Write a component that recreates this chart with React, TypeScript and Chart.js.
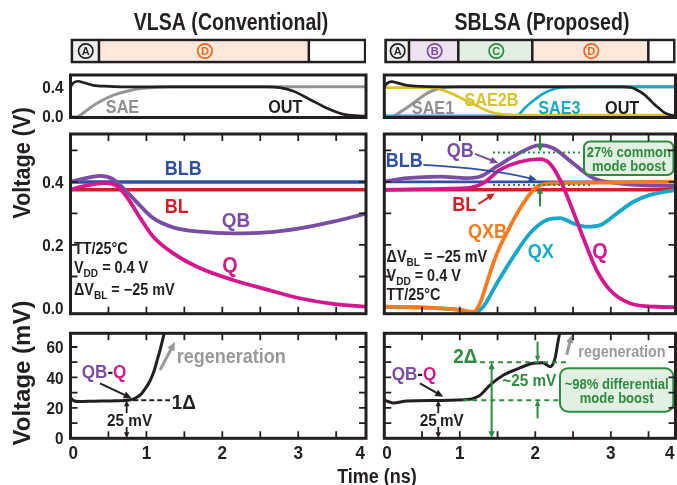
import React, { useEffect, useRef } from "react";
import { Chart, registerables } from "chart.js";

Chart.register(...registerables);

const W = 677;
const H = 485;
const FONT = '"Liberation Sans", Arial, sans-serif';
const SX = 0.9;

const INK = "#231F20";
const C_BLB = "#2F4FA3";
const C_BL = "#CE2029";
const C_QB = "#7A4DA5";
const C_Q = "#D5178D";
const C_QXB = "#F47B20";
const C_QX = "#17A7C9";
const C_SAE = "#969696";
const C_SAETXT = "#8F8F8F";
const C_SAE2B = "#D9C22C";
const C_GREEN = "#2E8B3F";
const C_GREENFILL = "#E2F0E1";
const C_REGEN = "#999999";

// ---------------- DATA ----------------
const timeLabelValues = [0, 1, 2, 3, 4];
const timeLabels = ["0", "1", "2", "3", "4"];
const timeTickValues = [0.5, 1, 1.5, 2, 2.5, 3, 3.5];
const topYLabelValues = [0, 0.4];
const topYLabels = ["0.0", "0.4"];
const mainYTickValues = [0.1, 0.2, 0.3, 0.4, 0.5];
const mainYLabelValues = [0, 0.2, 0.4];
const mainYLabels = ["0.0", "0.2", "0.4"];
const diffYTickValues = [10, 20, 30, 40, 50, 60];
const diffYLabelValues = [0, 20, 40, 60];
const diffYLabels = ["0", "20", "40", "60"];

// phases
const vlsaPhaseNames = ["A", "D", ""];
const vlsaPhaseStart = [0, 0.375, 3.14];
const vlsaPhaseEnd = [0.375, 3.14, 3.9];
const sblsaPhaseNames = ["A", "B", "C", "D", ""];
const sblsaPhaseStart = [0, 0.327, 0.98, 1.96, 3.497];
const sblsaPhaseEnd = [0.327, 0.98, 1.96, 3.497, 3.86];

// VLSA (conventional)
const vlsaSaeT = [0, 0.08, 0.15, 0.25, 0.39, 0.55, 0.74, 0.9, 1.09, 1.3, 3.9];
const vlsaSaeV = [0, -0.01, 0.03, 0.11, 0.2, 0.28, 0.34, 0.375, 0.39, 0.4, 0.4];
const vlsaOutT = [0, 0.04, 0.1, 0.18, 0.3, 0.5, 0.8, 2.6, 2.76, 2.94, 3.16, 3.38, 3.59, 3.81, 3.9];
const vlsaOutV = [0.4, 0.455, 0.475, 0.455, 0.42, 0.407, 0.4, 0.4, 0.39, 0.34, 0.225, 0.11, 0.03, 0.005, 0.0];
const vlsaBitT = [0, 3.9];
const vlsaBlbV = [0.4, 0.4];
const vlsaBlV = [0.375, 0.375];
const vlsaQbT = [0, 0.2, 0.39, 0.55, 0.74, 0.92, 1.09, 1.35, 1.71, 2.14, 2.58, 3.02, 3.46, 3.9];
const vlsaQbV = [0.4, 0.412, 0.419, 0.41, 0.369, 0.324, 0.285, 0.256, 0.242, 0.237, 0.24, 0.253, 0.274, 0.3];
const vlsaQT = [0, 0.2, 0.45, 0.6, 0.74, 0.92, 1.09, 1.35, 1.71, 2.14, 2.58, 3.02, 3.46, 3.9];
const vlsaQV = [0.375, 0.388, 0.396, 0.388, 0.353, 0.285, 0.226, 0.174, 0.126, 0.089, 0.059, 0.031, 0.013, 0.004];
const vlsaDiffT = [0, 0.05, 0.12, 0.3, 0.6, 0.78, 0.85, 0.92, 0.99, 1.05, 1.1, 1.14, 1.18, 1.22, 1.26];
const vlsaDiffMv = [26.5, 24.5, 24.2, 24.4, 24.7, 25.2, 26.3, 28.5, 33, 38, 44, 51, 58, 66, 74];

// SBLSA (proposed)
const sblsaSae1T = [0, 0.09, 0.2, 0.36, 0.53, 0.67, 0.8, 1.0, 3.86];
const sblsaSae1V = [0, -0.01, 0.05, 0.16, 0.29, 0.36, 0.39, 0.4, 0.4];
const sblsaSae2bT = [0, 0.55, 0.67, 0.8, 0.93, 1.06, 1.2, 1.33, 1.46, 1.64, 1.8, 3.86];
const sblsaSae2bV = [0.39, 0.39, 0.384, 0.347, 0.293, 0.225, 0.157, 0.09, 0.045, 0.022, 0.015, 0.015];
const sblsaSae3T = [0, 1.5, 1.62, 1.7, 1.78, 1.86, 1.99, 2.12, 2.26, 2.39, 2.57, 3.86];
const sblsaSae3V = [0.005, 0.005, -0.005, -0.02, 0.02, 0.113, 0.225, 0.316, 0.374, 0.395, 0.4, 0.4];
const sblsaOutT = [0, 0.04, 0.1, 0.18, 0.3, 0.5, 0.8, 3.15, 3.27, 3.36, 3.45, 3.52, 3.58, 3.65, 3.71, 3.8, 3.86];
const sblsaOutV = [0.4, 0.45, 0.47, 0.45, 0.42, 0.405, 0.4, 0.4, 0.39, 0.35, 0.29, 0.22, 0.16, 0.1, 0.05, 0.015, 0.005];
const sblsaBitT = [0, 3.86];
const sblsaBlbV = [0.4, 0.4];
const sblsaBlV = [0.375, 0.375];
const sblsaQbT = [0, 0.3, 0.74, 1.09, 1.27, 1.49, 1.75, 2.06, 2.24, 2.5, 2.77, 3.08, 3.39, 3.86];
const sblsaQbV = [0.401, 0.412, 0.417, 0.412, 0.417, 0.449, 0.486, 0.517, 0.507, 0.459, 0.412, 0.396, 0.39, 0.387];
const sblsaQT = [0, 0.52, 1.09, 1.31, 1.53, 1.8, 2.06, 2.19, 2.33, 2.46, 2.63, 2.81, 2.99, 3.25, 3.61, 3.86];
const sblsaQV = [0.375, 0.377, 0.38, 0.396, 0.438, 0.464, 0.472, 0.459, 0.406, 0.332, 0.226, 0.121, 0.057, 0.015, 0.004, 0.003];
const sblsaQxbT = [0, 0.52, 1.0, 1.18, 1.268, 1.356, 1.444, 1.532, 1.62, 1.709, 1.797, 1.886, 1.974, 2.062, 2.3, 3.0, 3.86];
const sblsaQxbV = [0.004, 0.002, -0.006, -0.012, 0.015, 0.078, 0.142, 0.195, 0.237, 0.279, 0.316, 0.348, 0.375, 0.39, 0.396, 0.398, 0.401];
const sblsaQxT = [0, 1.0, 1.18, 1.31, 1.49, 1.71, 1.93, 2.15, 2.33, 2.5, 2.68, 2.86, 3.08, 3.3, 3.52, 3.86];
const sblsaQxV = [0.004, -0.006, -0.015, 0.004, 0.078, 0.163, 0.237, 0.279, 0.285, 0.269, 0.258, 0.263, 0.3, 0.337, 0.359, 0.375];
const sblsaDiffT = [0, 0.06, 0.12, 0.3, 0.7, 1.13, 1.2, 1.27, 1.4, 1.58, 1.75, 1.97, 2.1, 2.195, 2.261, 2.305, 2.336, 2.37];
const sblsaDiffMv = [25.2, 24, 23.2, 24.5, 24.8, 25.6, 26.6, 28.4, 35, 41.6, 45.3, 49.3, 49.7, 47, 52.5, 64.6, 72, 80];

// ---------------- LAYOUT ----------------
type Col = { x0: number; x1: number; tMax: number };
type Row = { y0: number; y1: number; min: number; max: number };
const COL_L: Col = { x0: 70.5, x1: 366, tMax: 3.893 };
const COL_R: Col = { x0: 384.3, x1: 675.5, tMax: 3.857 };
const ROW_PHASE: Row = { y0: 38.5, y1: 63.5, min: 0, max: 1 };
const ROW_TOP: Row = { y0: 75, y1: 117.5, min: -0.016, max: 0.56 };
const ROW_MAIN: Row = { y0: 134, y1: 313.7, min: -0.018, max: 0.552 };
const ROW_DIFF: Row = { y0: 333.3, y1: 438.3, min: 0, max: 69 };

// ---------------- DRAW HELPERS ----------------
type Seg = { text: string; color?: string; sub?: boolean };
type Note =
  | { k: "text"; x: number; y: number; segs: Seg[]; size: number; align: "left" | "center" | "right"; color: string; sx?: number }
  | { k: "arrow"; x1: number; y1: number; x2: number; y2: number; color: string; width: number; both?: boolean; cx?: number; cy?: number; head?: number }
  | { k: "hline"; y: number; x1: number; x2: number; color: string; width: number; dash: number[] }
  | { k: "box"; x1: number; y1: number; x2: number; y2: number; fill: string; stroke: string; r: number };

const T = (text: string, x: number, y: number, color: string, size: number, align: "left" | "center" | "right" = "center", sx?: number): Note => ({
  k: "text", x, y, segs: [{ text }], size, align, color, sx,
});

function drawRich(ctx: CanvasRenderingContext2D, segs: Seg[], x: number, y: number, size: number, align: string, color: string, sx: number, rot = 0) {
  const widths = segs.map((s) => {
    ctx.font = `bold ${s.sub ? size * 0.7 : size}px ${FONT}`;
    return ctx.measureText(s.text).width * sx;
  });
  const total = widths.reduce((a, b) => a + b, 0);
  ctx.save();
  ctx.translate(x, y);
  if (rot) ctx.rotate(rot);
  let cx = align === "center" ? -total / 2 : align === "right" ? -total : 0;
  const base = 0.36 * size;
  segs.forEach((s, i) => {
    ctx.font = `bold ${s.sub ? size * 0.7 : size}px ${FONT}`;
    ctx.fillStyle = s.color || color;
    ctx.textAlign = "left";
    ctx.textBaseline = "alphabetic";
    ctx.save();
    ctx.translate(cx, base + (s.sub ? size * 0.25 : 0));
    ctx.scale(sx, 1);
    ctx.fillText(s.text, 0, 0);
    ctx.restore();
    cx += widths[i];
  });
  ctx.restore();
}

function head(ctx: CanvasRenderingContext2D, x: number, y: number, ang: number, len: number, color: string) {
  ctx.save();
  ctx.translate(x, y);
  ctx.rotate(ang);
  ctx.beginPath();
  ctx.moveTo(0, 0);
  ctx.lineTo(-len, len * 0.45);
  ctx.lineTo(-len, -len * 0.45);
  ctx.closePath();
  ctx.fillStyle = color;
  ctx.fill();
  ctx.restore();
}

function drawNote(ctx: CanvasRenderingContext2D, n: Note, xs: any, ys: any) {
  const X = (v: number) => xs.getPixelForValue(v);
  const Y = (v: number) => ys.getPixelForValue(v);
  if (n.k === "text") {
    drawRich(ctx, n.segs, X(n.x), Y(n.y), n.size, n.align, n.color, n.sx ?? SX);
  } else if (n.k === "hline") {
    ctx.save();
    ctx.strokeStyle = n.color;
    ctx.lineWidth = n.width;
    ctx.setLineDash(n.dash);
    ctx.beginPath();
    ctx.moveTo(X(n.x1), Y(n.y));
    ctx.lineTo(X(n.x2), Y(n.y));
    ctx.stroke();
    ctx.restore();
  } else if (n.k === "box") {
    const x1 = X(n.x1), x2 = X(n.x2), y1 = Y(n.y2), y2 = Y(n.y1);
    ctx.save();
    ctx.beginPath();
    (ctx as any).roundRect(x1, y1, x2 - x1, y2 - y1, n.r);
    ctx.fillStyle = n.fill;
    ctx.fill();
    ctx.strokeStyle = n.stroke;
    ctx.lineWidth = 2;
    ctx.stroke();
    ctx.restore();
  } else if (n.k === "arrow") {
    const x1 = X(n.x1), y1 = Y(n.y1), x2 = X(n.x2), y2 = Y(n.y2);
    const len = n.head ?? 7;
    ctx.save();
    ctx.strokeStyle = n.color;
    ctx.lineWidth = n.width;
    ctx.lineCap = "butt";
    let angEnd: number, angStart: number;
    if (n.cx !== undefined && n.cy !== undefined) {
      const cx = X(n.cx), cy = Y(n.cy);
      angEnd = Math.atan2(y2 - cy, x2 - cx);
      angStart = Math.atan2(y1 - cy, x1 - cx);
      const ex = x2 - Math.cos(angEnd) * len * 0.7, ey = y2 - Math.sin(angEnd) * len * 0.7;
      ctx.beginPath();
      ctx.moveTo(x1, y1);
      ctx.quadraticCurveTo(cx, cy, ex, ey);
      ctx.stroke();
    } else {
      angEnd = Math.atan2(y2 - y1, x2 - x1);
      angStart = angEnd + Math.PI;
      const ex = x2 - Math.cos(angEnd) * len * 0.7, ey = y2 - Math.sin(angEnd) * len * 0.7;
      const sx0 = n.both ? x1 + Math.cos(angEnd) * len * 0.7 : x1;
      const sy0 = n.both ? y1 + Math.sin(angEnd) * len * 0.7 : y1;
      ctx.beginPath();
      ctx.moveTo(sx0, sy0);
      ctx.lineTo(ex, ey);
      ctx.stroke();
    }
    head(ctx, x2, y2, angEnd, len, n.color);
    if (n.both) head(ctx, x1, y1, angStart, len, n.color);
    ctx.restore();
  }
}

type Spec = {
  xTicks?: number[];
  yTicks?: number[];
  yLabelValues?: number[];
  yLabels?: string[];
  xLabels?: boolean;
  notes: Note[];
};

function decorPlugin(spec: Spec) {
  return {
    id: "decor",
    afterDatasetsDraw(chart: any) {
      const ctx: CanvasRenderingContext2D = chart.ctx;
      const a = chart.chartArea;
      const xs = chart.scales.x;
      const ys = chart.scales.y;
      ctx.save();
      for (const n of spec.notes) drawNote(ctx, n, xs, ys);
      ctx.strokeStyle = INK;
      ctx.lineWidth = 1.8;
      ctx.beginPath();
      for (const t of spec.xTicks || []) {
        const px = xs.getPixelForValue(t);
        ctx.moveTo(px, a.top);
        ctx.lineTo(px, a.top + 7);
        ctx.moveTo(px, a.bottom);
        ctx.lineTo(px, a.bottom - 7);
      }
      for (const v of spec.yTicks || []) {
        const py = ys.getPixelForValue(v);
        ctx.moveTo(a.left, py);
        ctx.lineTo(a.left + 7, py);
        ctx.moveTo(a.right, py);
        ctx.lineTo(a.right - 7, py);
      }
      ctx.stroke();
      ctx.lineWidth = 3;
      ctx.strokeRect(a.left, a.top, a.right - a.left, a.bottom - a.top);
      if (spec.yLabelValues && spec.yLabels) {
        spec.yLabelValues.forEach((v, i) => {
          drawRich(ctx, [{ text: spec.yLabels![i] }], a.left - 7, ys.getPixelForValue(v), 17, "right", INK, SX);
        });
      }
      if (spec.xLabels) {
        timeLabelValues.forEach((v, i) => {
          const last = i === timeLabelValues.length - 1;
          const first = i === 0;
          const px = first ? a.left - 2 : last ? a.right - 1 : xs.getPixelForValue(v);
          drawRich(ctx, [{ text: timeLabels[i] }], px, 452, 19, first ? "left" : last ? "right" : "center", INK, SX);
        });
      }
      ctx.restore();
    },
  };
}

function pagePlugin() {
  return {
    id: "page",
    afterDraw(chart: any) {
      const ctx: CanvasRenderingContext2D = chart.ctx;
      ctx.save();
      drawRich(ctx, [{ text: "VLSA (Conventional)" }], 231, 22, 23, "center", INK, 0.85);
      drawRich(ctx, [{ text: "SBLSA (Proposed)" }], 542, 22, 23, "center", INK, 0.85);
      drawRich(ctx, [{ text: "Voltage (V)" }], 21.5, 163, 23, "center", INK, 0.94, -Math.PI / 2);
      drawRich(ctx, [{ text: "Voltage (mV)" }], 21.5, 373, 24, "center", INK, 1.0, -Math.PI / 2);
      drawRich(ctx, [{ text: "Time (ns)" }], 377, 476, 20, "center", INK, 0.9);
      ctx.restore();
    },
  };
}

function phasePlugin(names: string[], starts: number[], ends: number[], colors: string[]) {
  return {
    id: "phaseLetters",
    afterDatasetsDraw(chart: any) {
      const ctx: CanvasRenderingContext2D = chart.ctx;
      const xs = chart.scales.x;
      const a = chart.chartArea;
      const cy = (a.top + a.bottom) / 2;
      names.forEach((n, i) => {
        if (!n) return;
        const cx = xs.getPixelForValue((starts[i] + ends[i]) / 2) + 1;
        ctx.save();
        ctx.beginPath();
        ctx.arc(cx, cy, 7.2, 0, Math.PI * 2);
        ctx.strokeStyle = colors[i];
        ctx.lineWidth = 1.7;
        ctx.stroke();
        ctx.fillStyle = colors[i];
        ctx.font = `bold 11px ${FONT}`;
        ctx.textAlign = "center";
        ctx.textBaseline = "alphabetic";
        ctx.fillText(n, cx, cy + 4);
        ctx.restore();
      });
    },
  };
}

const series = (t: number[], v: number[], color: string, width: number) => ({
  data: t.map((x, i) => ({ x, y: v[i] })),
  borderColor: color,
  backgroundColor: color,
  borderWidth: width,
  pointRadius: 0,
  fill: false,
  cubicInterpolationMode: "monotone" as const,
  clip: 1,
});

function baseOptions(col: Col, row: Row) {
  return {
    animation: false as const,
    responsive: false,
    devicePixelRatio: 1,
    events: [] as any[],
    layout: { padding: { left: col.x0, right: W - col.x1, top: row.y0, bottom: H - row.y1 } },
    plugins: { legend: { display: false }, tooltip: { enabled: false }, title: { display: false } },
  };
}

function lineChart(canvas: HTMLCanvasElement, col: Col, row: Row, dsBottomToTop: any[], spec: Spec) {
  const n = dsBottomToTop.length;
  const datasets = dsBottomToTop.map((d, i) => ({ ...d, order: n - i }));
  return new Chart(canvas, {
    type: "line",
    data: { datasets },
    options: {
      ...baseOptions(col, row),
      scales: {
        x: { type: "linear", min: 0, max: col.tMax, display: false },
        y: { type: "linear", min: row.min, max: row.max, display: false },
      },
    } as any,
    plugins: [decorPlugin(spec)],
  });
}

function phaseChart(canvas: HTMLCanvasElement, col: Col, names: string[], starts: number[], ends: number[], fills: string[], colors: string[], extra: any[]) {
  const last = names.length - 1;
  return new Chart(canvas, {
    type: "bar",
    data: {
      labels: ["phase"],
      datasets: names.map((n, i) => ({
        label: n || "idle",
        data: [[starts[i], ends[i]]],
        backgroundColor: fills[i],
        borderColor: INK,
        borderWidth: { top: 3, bottom: 3, left: i === 0 ? 3 : 1.6, right: i === last ? 3 : 1.6 },
        borderSkipped: false,
        grouped: false,
        barPercentage: 1,
        categoryPercentage: 1,
      })),
    } as any,
    options: {
      ...baseOptions(col, ROW_PHASE),
      indexAxis: "y",
      scales: {
        x: { type: "linear", min: 0, max: col.tMax, display: false },
        y: { display: false },
      },
    } as any,
    plugins: [phasePlugin(names, starts, ends, colors), ...extra],
  });
}

// ---------------- ANNOTATIONS ----------------
const vlsaTopNotes: Note[] = [T("SAE", 0.685, 0.136, C_SAETXT, 18), T("OUT", 2.83, 0.13, INK, 18)];
const sblsaTopNotes: Note[] = [
  T("SAE1", 0.645, 0.119, C_SAETXT, 18),
  T("SAE2B", 1.42, 0.232, C_SAE2B, 18),
  T("SAE3", 2.32, 0.119, C_QX, 18),
  T("OUT", 3.15, 0.119, INK, 18),
];
const vddSegs: Seg[] = [{ text: "V" }, { text: "DD", sub: true }, { text: " = 0.4 V" }];
const dvSegs: Seg[] = [{ text: "ΔV" }, { text: "BL", sub: true }, { text: " = −25 mV" }];
const vlsaMainNotes: Note[] = [
  T("BLB", 1.486, 0.445, C_BLB, 20),
  T("BL", 1.4, 0.324, C_BL, 20),
  T("QB", 2.18, 0.282, C_QB, 21),
  T("Q", 2.1, 0.14, C_Q, 22),
  T("TT/25°C", 0.046, 0.19, INK, 16, "left"),
  { k: "text", x: 0.046, y: 0.128, segs: vddSegs, size: 16, align: "left", color: INK },
  { k: "text", x: 0.046, y: 0.06, segs: dvSegs, size: 16, align: "left", color: INK },
];
const sblsaMainNotes: Note[] = [
  T("BLB", 0.264, 0.471, C_BLB, 20),
  T("QB", 1.007, 0.502, C_QB, 20),
  T("BL", 1.058, 0.33, C_BL, 20),
  T("QXB", 1.367, 0.245, C_QXB, 20),
  T("QX", 2.073, 0.182, C_QX, 20),
  T("Q", 2.857, 0.185, C_Q, 22),
  { k: "text", x: 0.03, y: 0.163, segs: dvSegs, size: 16, align: "left", color: INK },
  { k: "text", x: 0.03, y: 0.105, segs: vddSegs, size: 16, align: "left", color: INK },
  T("TT/25°C", 0.03, 0.043, INK, 16, "left"),
  { k: "arrow", x1: 1.2, y1: 0.489, x2: 1.51, y2: 0.46, color: C_QB, width: 2, head: 8 },
  { k: "arrow", x1: 0.517, y1: 0.454, x2: 2.02, y2: 0.406, cx: 1.4, cy: 0.443, color: C_BLB, width: 1.8, head: 8 },
  { k: "arrow", x1: 1.245, y1: 0.33, x2: 1.466, y2: 0.364, color: C_BL, width: 2, head: 8 },
  { k: "hline", y: 0.493, x1: 1.44, x2: 2.64, color: C_GREEN, width: 2, dash: [2, 3] },
  { k: "hline", y: 0.39, x1: 1.44, x2: 2.77, color: C_GREEN, width: 2, dash: [2, 3] },
  { k: "arrow", x1: 2.062, y1: 0.549, x2: 2.062, y2: 0.496, color: C_GREEN, width: 2, head: 7 },
  { k: "arrow", x1: 2.062, y1: 0.322, x2: 2.062, y2: 0.385, color: C_GREEN, width: 2, head: 7 },
  { k: "box", x1: 2.645, y1: 0.422, x2: 3.83, y2: 0.528, fill: C_GREENFILL, stroke: C_GREEN, r: 6 },
  T("27% common", 3.24, 0.496, C_GREEN, 14.5),
  T("mode boost", 3.24, 0.451, C_GREEN, 14.5),
];
const qbqSegs: Seg[] = [{ text: "QB", color: C_QB }, { text: "-", color: INK }, { text: "Q", color: C_Q }];
const vlsaDiffNotes: Note[] = [
  { k: "text", x: 0.148, y: 43.8, segs: qbqSegs, size: 19, align: "left", color: INK },
  { k: "arrow", x1: 0.389, y1: 36.1, x2: 0.806, y2: 26.3, color: INK, width: 2, head: 8 },
  { k: "hline", y: 25, x1: 0.827, x2: 1.311, color: INK, width: 2, dash: [5, 3] },
  T("1Δ", 1.333, 24.4, INK, 21, "left"),
  { k: "arrow", x1: 1.179, y1: 44.9, x2: 1.377, y2: 63.5, color: C_REGEN, width: 3, head: 9 },
  T("regeneration", 1.4, 54, C_REGEN, 20, "left"),
  { k: "arrow", x1: 0.74, y1: 16.5, x2: 0.74, y2: 25, color: INK, width: 1.8, head: 6 },
  { k: "arrow", x1: 0.74, y1: 7.5, x2: 0.74, y2: 0, color: INK, width: 1.8, head: 6 },
  T("25", 0.705, 12, INK, 17, "right"),
  T("mV", 0.762, 12, INK, 17, "left"),
];
const sblsaDiffNotes: Note[] = [
  { k: "text", x: 0.098, y: 42.7, segs: qbqSegs, size: 19, align: "left", color: INK },
  { k: "arrow", x1: 0.473, y1: 36.1, x2: 0.781, y2: 27.3, color: INK, width: 2, head: 8 },
  { k: "arrow", x1: 0.715, y1: 16.5, x2: 0.715, y2: 25, color: INK, width: 1.8, head: 6 },
  { k: "arrow", x1: 0.715, y1: 7.5, x2: 0.715, y2: 0, color: INK, width: 1.8, head: 6 },
  T("25", 0.694, 12, INK, 17, "right"),
  T("mV", 0.738, 12, INK, 17, "left"),
  { k: "hline", y: 50, x1: 1.268, x2: 2.416, color: C_GREEN, width: 2, dash: [5, 4] },
  { k: "hline", y: 25, x1: 1.046, x2: 2.305, color: C_GREEN, width: 2, dash: [5, 4] },
  T("2Δ", 0.914, 54.2, C_GREEN, 21, "left"),
  { k: "arrow", x1: 1.422, y1: 50, x2: 1.422, y2: 0, both: true, color: C_GREEN, width: 2, head: 7 },
  { k: "arrow", x1: 2.03, y1: 63.5, x2: 2.03, y2: 50.3, color: C_GREEN, width: 2, head: 6 },
  { k: "arrow", x1: 2.03, y1: 13.1, x2: 2.03, y2: 25.2, color: C_GREEN, width: 2, head: 6 },
  T("~25 mV", 1.92, 38.3, C_GREEN, 17),
  { k: "box", x1: 2.327, y1: 17.5, x2: 3.828, y2: 46, fill: C_GREENFILL, stroke: C_GREEN, r: 8 },
  T("~98% differential", 3.078, 36.1, C_GREEN, 14.5),
  T("mode boost", 3.078, 26.3, C_GREEN, 14.5),
  { k: "arrow", x1: 2.416, y1: 54.8, x2: 2.482, y2: 67.9, color: C_REGEN, width: 3, head: 8 },
  T("regeneration", 2.57, 57.4, C_REGEN, 16, "left"),
];

export default function App() {
  const canvases = useRef<(HTMLCanvasElement | null)[]>([]);
  useEffect(() => {
    const c = canvases.current as HTMLCanvasElement[];
    const charts: Chart[] = [];
    charts.push(
      phaseChart(c[0], COL_L, vlsaPhaseNames, vlsaPhaseStart, vlsaPhaseEnd, ["#EEEEEE", "#FDE8DB", "#FFFFFF"], [INK, "#F26522", INK], [pagePlugin()])
    );
    charts.push(
      phaseChart(
        c[1], COL_R, sblsaPhaseNames, sblsaPhaseStart, sblsaPhaseEnd,
        ["#EEEEEE", "#EEE2F0", "#E0EFE0", "#FDE8DB", "#FFFFFF"],
        [INK, "#7D4BA8", "#2E8B3E", "#F26522", INK], []
      )
    );
    charts.push(
      lineChart(c[2], COL_L, ROW_TOP, [series(vlsaSaeT, vlsaSaeV, C_SAE, 3), series(vlsaOutT, vlsaOutV, INK, 2.7)], {
        yLabelValues: topYLabelValues, yLabels: topYLabels, notes: vlsaTopNotes,
      })
    );
    charts.push(
      lineChart(
        c[3], COL_R, ROW_TOP,
        [
          series(sblsaSae1T, sblsaSae1V, C_SAE, 3),
          series(sblsaSae3T, sblsaSae3V, C_QX, 2.7),
          series(sblsaSae2bT, sblsaSae2bV, C_SAE2B, 2.7),
          series(sblsaOutT, sblsaOutV, INK, 2.7),
        ],
        { notes: sblsaTopNotes }
      )
    );
    charts.push(
      lineChart(
        c[4], COL_L, ROW_MAIN,
        [
          series(vlsaBitT, vlsaBlbV, C_BLB, 3.5),
          series(vlsaBitT, vlsaBlV, C_BL, 3.5),
          series(vlsaQbT, vlsaQbV, C_QB, 3.8),
          series(vlsaQT, vlsaQV, C_Q, 3.8),
        ],
        { xTicks: timeTickValues, yTicks: mainYTickValues, yLabelValues: mainYLabelValues, yLabels: mainYLabels, notes: vlsaMainNotes }
      )
    );
    charts.push(
      lineChart(
        c[5], COL_R, ROW_MAIN,
        [
          series(sblsaBitT, sblsaBlbV, C_BLB, 2.6),
          series(sblsaBitT, sblsaBlV, C_BL, 3.5),
          series(sblsaQxT, sblsaQxV, C_QX, 3.8),
          series(sblsaQbT, sblsaQbV, C_QB, 3.8),
          series(sblsaQxbT, sblsaQxbV, C_QXB, 3.8),
          series(sblsaQT, sblsaQV, C_Q, 3.8),
        ],
        { xTicks: timeTickValues, yTicks: mainYTickValues, notes: sblsaMainNotes }
      )
    );
    charts.push(
      lineChart(c[6], COL_L, ROW_DIFF, [series(vlsaDiffT, vlsaDiffMv, INK, 3)], {
        xTicks: timeTickValues, yTicks: diffYTickValues, yLabelValues: diffYLabelValues, yLabels: diffYLabels, xLabels: true, notes: vlsaDiffNotes,
      })
    );
    charts.push(
      lineChart(c[7], COL_R, ROW_DIFF, [series(sblsaDiffT, sblsaDiffMv, INK, 3)], {
        xTicks: timeTickValues, yTicks: diffYTickValues, xLabels: true, notes: sblsaDiffNotes,
      })
    );
    return () => charts.forEach((ch) => ch.destroy());
  }, []);

  return (
    <div style={{ position: "absolute", left: 0, top: 0, width: W, height: H, overflow: "hidden", background: "#FFFFFF" }}>
      {Array.from({ length: 8 }, (_, i) => (
        <canvas
          key={i}
          ref={(el) => {
            canvases.current[i] = el;
          }}
          width={W}
          height={H}
          style={{ position: "absolute", left: 0, top: 0, width: W, height: H }}
        />
      ))}
    </div>
  );
}
